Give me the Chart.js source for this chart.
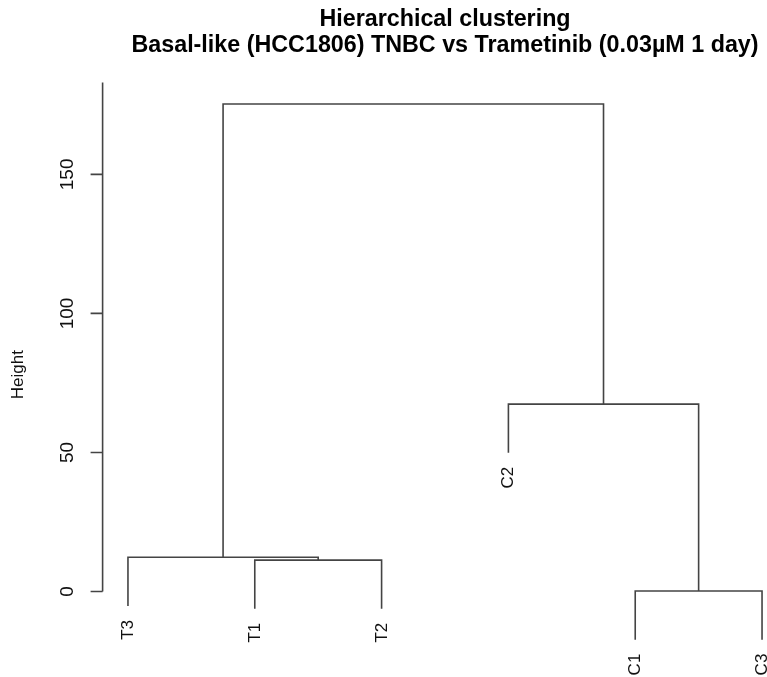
<!DOCTYPE html>
<html><head><meta charset="utf-8">
<style>html,body{margin:0;padding:0;overflow:hidden;background:#fff;width:767px;height:677px}
#wrap{width:790px;height:677px}</style>
<script src="https://cdn.jsdelivr.net/npm/chart.js@4/dist/chart.umd.min.js"></script>
</head><body><div id="wrap"><canvas id="c" width="790" height="677"></canvas></div>
<script>
// Dendrogram data (R hclust style): negative = leaf (1-based position in leafLabels), positive = earlier merge
const leafLabels  = ['T3', 'T1', 'T2', 'C2', 'C1', 'C3'];
const mergeLeft   = [-5, -2, -1, -4, 3];
const mergeRight  = [-6, -3,  2,  1, 4];
const mergeHeight = [0.2, 11.3, 12.3, 67.4, 175.3];
const yTickValues = [0, 50, 100, 150];
const titleLines  = ['Hierarchical clustering', 'Basal-like (HCC1806) TNBC vs Trametinib (0.03\u00b5M 1 day)'];
const yAxisTitle  = 'Height';
const hangFraction = 0.1;

const lineColor = '#444444';
const textColor = '#111111';
const fontFam = "'Liberation Sans', Arial, Helvetica, sans-serif";

const hang = hangFraction * (Math.max(...mergeHeight) - Math.min(...mergeHeight));
const nodeX = [];
const leafEnd = new Array(leafLabels.length);
const datasets = [];
function childX(c) { return c < 0 ? -c : nodeX[c - 1]; }
mergeHeight.forEach((h, i) => {
  const l = mergeLeft[i], r = mergeRight[i];
  const xl = childX(l), xr = childX(r);
  const yl = l < 0 ? h - hang : mergeHeight[l - 1];
  const yr = r < 0 ? h - hang : mergeHeight[r - 1];
  if (l < 0) leafEnd[-l - 1] = h - hang;
  if (r < 0) leafEnd[-r - 1] = h - hang;
  nodeX.push((xl + xr) / 2);
  datasets.push({
    data: [{x: xl, y: yl}, {x: xl, y: h}, {x: xr, y: h}, {x: xr, y: yr}],
    showLine: true, borderColor: lineColor, borderWidth: 1.6,
    pointRadius: 0, fill: false, tension: 0, clip: false
  });
});

const axisPlugin = {
  id: 'dendroAxis',
  afterDraw(chart) {
    const {ctx, chartArea, scales: {x, y}} = chart;
    ctx.save();
    const ax = chartArea.left;
    ctx.strokeStyle = lineColor;
    ctx.lineWidth = 1.6;
    ctx.beginPath();
    ctx.moveTo(ax, y.getPixelForValue(yTickValues[0]));
    ctx.lineTo(ax, y.getPixelForValue(y.max));
    yTickValues.forEach(v => {
      const py = y.getPixelForValue(v);
      ctx.moveTo(ax - 12, py);
      ctx.lineTo(ax, py);
    });
    ctx.stroke();
    ctx.fillStyle = textColor;
    ctx.font = '19px ' + fontFam;
    yTickValues.forEach(v => {
      const py = y.getPixelForValue(v);
      ctx.save();
      ctx.translate(ax - 29.6, py);
      ctx.rotate(-Math.PI / 2);
      ctx.textAlign = 'center';
      ctx.textBaseline = 'alphabetic';
      ctx.fillText(String(v), 0, 0);
      ctx.restore();
    });
    ctx.font = '17px ' + fontFam;
    leafLabels.forEach((lab, i) => {
      const px = x.getPixelForValue(i + 1);
      const py = y.getPixelForValue(leafEnd[i]) + 14;
      ctx.save();
      ctx.translate(px + 5, py);
      ctx.rotate(-Math.PI / 2);
      ctx.textAlign = 'right';
      ctx.textBaseline = 'alphabetic';
      ctx.fillText(lab, 0, 0);
      ctx.restore();
    });
    ctx.restore();
  }
};

new Chart(document.getElementById('c'), {
  type: 'scatter',
  data: { datasets },
  options: {
    responsive: false,
    animation: false,
    events: [],
    layout: { padding: { left: 3, right: 2.6, top: 0, bottom: 10.4 } },
    plugins: {
      legend: { display: false },
      tooltip: { enabled: false },
      title: {
        display: true, fullSize: false, text: titleLines, color: '#000',
        font: { family: fontFam, size: 23.3, weight: 'bold', lineHeight: '26px' },
        padding: { top: 7, bottom: 23.6 }
      }
    },
    scales: {
      x: { type: 'linear', min: 0.8, max: 6.2, display: false },
      y: {
        type: 'linear', min: -27, max: 183,
        grid: { display: false }, border: { display: false },
        ticks: { display: false },
        title: { display: true, text: yAxisTitle, color: textColor,
                 font: { family: fontFam, size: 17, lineHeight: 1.2 }, padding: { top: 5, bottom: 0 } },
        afterFit(s) { s.width = 99.6; }
      }
    }
  },
  plugins: [axisPlugin]
});
</script></body></html>
